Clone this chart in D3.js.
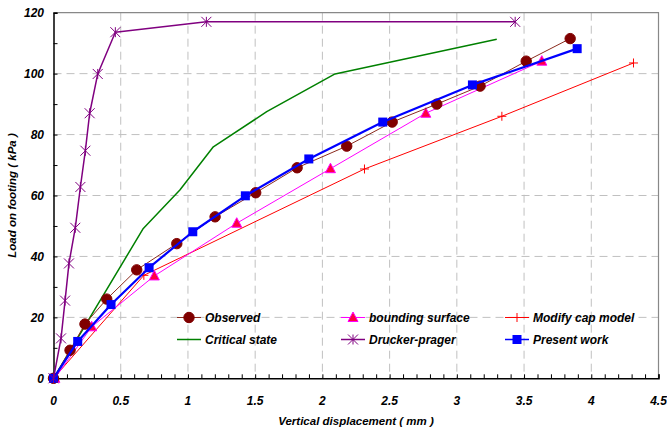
<!DOCTYPE html>
<html>
<head>
<meta charset="utf-8">
<script src="https://cdn.jsdelivr.net/npm/d3@7"></script>
<style>
  body { margin: 0; background: #fff; }
  svg { display: block; }
  text { font-family: "Liberation Sans", Arial, sans-serif; font-weight: bold; font-style: italic; }
</style>
</head>
<body>
<svg id="chart" width="667" height="433"></svg>
<script>
// ---- Data ----
const xTicks = [0, 0.5, 1, 1.5, 2, 2.5, 3, 3.5, 4, 4.5];
const yTicks = [0, 20, 40, 60, 80, 100, 120];

const observedX = [0, 0.123, 0.234, 0.396, 0.619, 0.917, 1.202, 1.504, 1.812, 2.181, 2.519, 2.851, 3.173, 3.516, 3.843];
const observedY = [0, 9.2, 17.8, 26.0, 35.6, 44.2, 53.0, 60.9, 69.1, 76.2, 84.1, 90.0, 95.9, 104.1, 111.5];

const criticalX = [0, 0.668, 0.94, 1.189, 1.586, 2.094, 3.297];
const criticalY = [0, 49.2, 61.8, 76.0, 87.5, 99.9, 111.3];

const boundingX = [0.01, 0.284, 0.75, 1.363, 2.06, 2.769, 3.632];
const boundingY = [0, 16.9, 33.6, 50.9, 68.8, 87.0, 104.1];

const druckerX = [0, 0.056, 0.086, 0.115, 0.162, 0.2, 0.237, 0.269, 0.329, 0.46, 1.137, 3.434];
const druckerY = [0, 13.1, 25.5, 37.7, 49.4, 62.8, 74.7, 87.0, 99.9, 113.6, 117.0, 117.0];

const capX = [0, 0.672, 2.313, 3.335, 4.314];
const capY = [0, 33.8, 68.7, 86.0, 103.5];

const presentX = [0, 0.18, 0.428, 0.711, 1.036, 1.427, 1.899, 2.449, 3.116, 3.895];
const presentY = [0, 12.1, 24.2, 36.3, 48.1, 59.9, 72.0, 84.1, 96.3, 108.2];

const seriesNames = ["Observed", "Critical state", "bounding surface", "Drucker-prager", "Modify cap model", "Present work"];

// ---- Layout ----
const svg = d3.select("#chart");
const L = 53.5, R = 658.5, T = 12.7, B = 378.3;
const x = d3.scaleLinear().domain([0, 4.5]).range([L, R]);
const y = d3.scaleLinear().domain([0, 120]).range([B, T]);

// grid
const grid = svg.append("g");
grid.selectAll("line.vg").data(xTicks.slice(1, -1)).join("line")
  .attr("x1", d => x(d)).attr("x2", d => x(d)).attr("y1", T).attr("y2", B)
  .attr("stroke", "#c0c0c0").attr("stroke-width", 1).attr("stroke-dasharray", "8,5");
grid.selectAll("line.hg").data(yTicks.slice(1, -1)).join("line")
  .attr("y1", d => y(d)).attr("y2", d => y(d)).attr("x1", L).attr("x2", R)
  .attr("stroke", "#c0c0c0").attr("stroke-width", 1).attr("stroke-dasharray", "8,5");

// frame top/right
svg.append("path").attr("d", `M${L},${T}H${R}V${B}`).attr("fill", "none").attr("stroke", "#888").attr("stroke-width", 1.2);

// axes
const xAxis = d3.axisBottom(x).tickValues(d3.range(0, 45.5, 1).map(v => v / 10)).tickSize(-4).tickFormat("");
const gx = svg.append("g").attr("transform", `translate(0,${B})`).call(xAxis);
gx.select(".domain").attr("stroke", "#000").attr("stroke-width", 1.5);
gx.selectAll(".tick line").attr("stroke", "#000");

const yAxis = d3.axisLeft(y).tickValues(d3.range(0, 121, 10)).tickSize(-4).tickFormat("");
const gy = svg.append("g").attr("transform", `translate(${L},0)`).call(yAxis);
gy.select(".domain").attr("stroke", "#000").attr("stroke-width", 1.5);
gy.selectAll(".tick line").attr("stroke", "#000");

// tick labels
svg.append("g").selectAll("text").data(xTicks).join("text")
  .attr("x", d => x(d)).attr("y", 405).attr("text-anchor", "middle")
  .attr("font-size", 12).attr("fill", "#000").text(d => d);
svg.append("g").selectAll("text").data(yTicks).join("text")
  .attr("x", 44).attr("y", d => y(d) + 4.5).attr("text-anchor", "end")
  .attr("font-size", 12).attr("fill", "#000").text(d => d);

// axis titles
svg.append("text").attr("x", (L + R) / 2).attr("y", 425).attr("text-anchor", "middle")
  .attr("font-size", 11.5).attr("fill", "#000").text("Vertical displacement ( mm )");
svg.append("text").attr("transform", `translate(16,${(T + B) / 2}) rotate(-90)`).attr("text-anchor", "middle")
  .attr("font-size", 11.5).attr("fill", "#000").text("Load on footing ( kPa )");

// ---- series ----
const line = d3.line().x(d => x(d[0])).y(d => y(d[1]));
const zip = (a, b) => a.map((v, i) => [v, b[i]]);

const series = [
  { name: seriesNames[0], data: zip(observedX, observedY), color: "#8B2B1E", width: 1, marker: "circle", mfill: "#800000", mstroke: "#800000" },
  { name: seriesNames[1], data: zip(criticalX, criticalY), color: "#008000", width: 1.5, marker: null },
  { name: seriesNames[2], data: zip(boundingX, boundingY), color: "#FF00FF", width: 1, marker: "triangle", mfill: "#FF0040", mstroke: "#FF00FF" },
  { name: seriesNames[3], data: zip(druckerX, druckerY), color: "#800080", width: 1.5, marker: "asterisk", mstroke: "#800080" },
  { name: seriesNames[4], data: zip(capX, capY), color: "#FF0000", width: 1, marker: "plus", mstroke: "#FF0000" },
  { name: seriesNames[5], data: zip(presentX, presentY), color: "#0000FF", width: 2.2, marker: "square", mfill: "#0000FF", mstroke: "#0000FF" }
];

function drawMarker(g, type, cx, cy, s) {
  if (type === "circle") {
    g.append("circle").attr("cx", cx).attr("cy", cy).attr("r", 5.2).attr("fill", s.mfill).attr("stroke", s.mstroke);
  } else if (type === "square") {
    g.append("rect").attr("x", cx - 4.5).attr("y", cy - 4.5).attr("width", 9).attr("height", 9).attr("fill", s.mfill);
  } else if (type === "triangle") {
    g.append("path").attr("d", `M${cx},${cy - 5.5}L${cx + 5},${cy + 4}L${cx - 5},${cy + 4}Z`)
      .attr("fill", s.mfill).attr("stroke", s.mstroke).attr("stroke-width", 1);
  } else if (type === "plus") {
    g.append("path").attr("d", `M${cx - 4.5},${cy}H${cx + 4.5}M${cx},${cy - 4.5}V${cy + 4.5}`)
      .attr("stroke", s.mstroke).attr("stroke-width", 1);
  } else if (type === "asterisk") {
    const r = 5;
    g.append("path").attr("d",
      `M${cx - r},${cy - r}L${cx + r},${cy + r}M${cx - r},${cy + r}L${cx + r},${cy - r}M${cx},${cy - r}V${cy + r}`)
      .attr("stroke", s.mstroke).attr("stroke-width", 1);
  }
}

const drawOrder = [1, 4, 2, 0, 5, 3];
drawOrder.forEach(i => {
  const s = series[i];
  const g = svg.append("g");
  g.append("path").attr("d", line(s.data)).attr("fill", "none")
    .attr("stroke", s.color).attr("stroke-width", s.width).attr("stroke-linejoin", "round");
  if (s.marker) s.data.forEach(d => drawMarker(g, s.marker, x(d[0]), y(d[1]), s));
});

// ---- legend ----
const legCols = [177, 341, 505];
const legRows = [317.5, 339.5];
const legendOrder = [0, 2, 4, 1, 3, 5];
legendOrder.forEach((si, k) => {
  const s = series[si];
  const lx = legCols[k % 3], ly = legRows[Math.floor(k / 3)];
  const g = svg.append("g");
  g.append("line").attr("x1", lx).attr("x2", lx + 24).attr("y1", ly).attr("y2", ly)
    .attr("stroke", s.color).attr("stroke-width", Math.min(s.width, 1.5));
  if (s.marker) drawMarker(g, s.marker, lx + 12, ly, s);
  g.append("text").attr("x", lx + 28).attr("y", ly + 4.5).attr("font-size", 12).attr("fill", "#000").text(s.name);
});
</script>
</body>
</html>
